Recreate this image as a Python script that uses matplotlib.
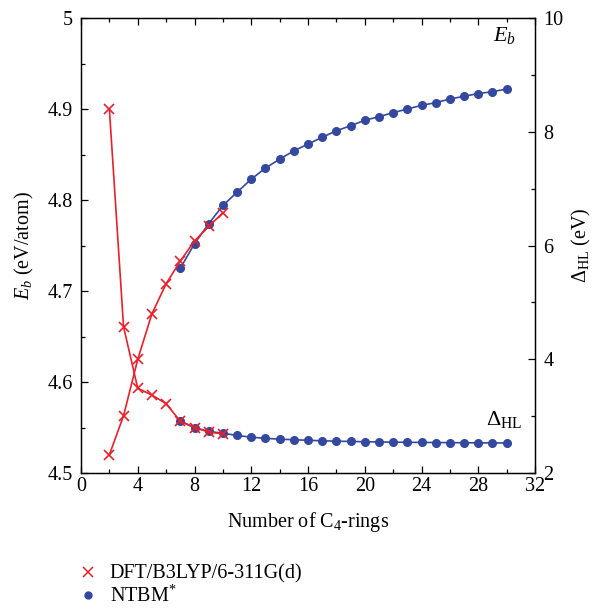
import matplotlib
matplotlib.use("Agg")
import matplotlib.pyplot as plt
from matplotlib.ticker import MultipleLocator
from matplotlib.lines import Line2D

plt.rcParams['font.family'] = ['Liberation Serif', 'DejaVu Serif']
plt.rcParams['mathtext.fontset'] = 'custom'
plt.rcParams['mathtext.rm'] = 'Liberation Serif'
plt.rcParams['mathtext.it'] = 'Liberation Serif:italic'

# DFT data
dft_n = [2, 3, 4, 5, 6, 7, 8, 9, 10]
dft_eb = [4.520, 4.563, 4.625, 4.675, 4.708, 4.733, 4.755, 4.771, 4.786]
dft_hl = [8.40, 4.57, 3.49, 3.37, 3.22, 2.91, 2.80, 2.72, 2.69]

# NTBM data
ntbm_n = list(range(7, 31))
ntbm_eb = [4.725, 4.752, 4.774, 4.794, 4.8085, 4.823, 4.835, 4.845, 4.854,
           4.8615, 4.869, 4.876, 4.8817, 4.8876, 4.8916, 4.896, 4.900, 4.904,
           4.907, 4.911, 4.914, 4.917, 4.919, 4.922]
ntbm_hl = [2.91, 2.80, 2.73, 2.70, 2.66, 2.63, 2.61, 2.595, 2.585, 2.575,
           2.567, 2.56, 2.555, 2.55, 2.546, 2.543, 2.54, 2.538, 2.536, 2.534,
           2.532, 2.53, 2.529, 2.528]

red = '#e8202a'
blue = '#3448a0'
fs = 14.5

fig = plt.figure(figsize=(5.93, 6.09), dpi=100)
ax = fig.add_axes([0.1366, 0.2233, 0.7656, 0.7471])
ax2 = ax.twinx()

ax.plot(dft_n, dft_eb, color=red, lw=1.2, marker='x', ms=7, mew=1.2, zorder=3)
ax.plot(ntbm_n, ntbm_eb, color=blue, lw=1.2, marker='o', ms=5.5, zorder=2)
ax2.plot(dft_n, dft_hl, color=red, lw=1.2, marker='x', ms=7, mew=1.2, zorder=3)
ax2.plot(ntbm_n, ntbm_hl, color=blue, lw=1.2, marker='o', ms=5.5, zorder=2)

ax.set_xlim(0, 32)
ax.set_ylim(4.5, 5.0)
ax2.set_ylim(2, 10)

ax.xaxis.set_major_locator(MultipleLocator(4))
ax.xaxis.set_minor_locator(MultipleLocator(2))
ax.yaxis.set_major_locator(MultipleLocator(0.1))
ax.yaxis.set_minor_locator(MultipleLocator(0.05))
ax2.yaxis.set_major_locator(MultipleLocator(2))
ax2.yaxis.set_minor_locator(MultipleLocator(1))

ax.set_yticks([4.5, 4.6, 4.7, 4.8, 4.9, 5.0])
ax.set_yticklabels(['4.5', '4.6', '4.7', '4.8', '4.9', '5'])

for a in (ax, ax2):
    a.tick_params(which='both', direction='in', labelsize=fs, width=0.9)
    a.tick_params(which='major', length=5)
    a.tick_params(which='minor', length=3)
    for s in a.spines.values():
        s.set_linewidth(0.9)
ax.tick_params(axis='x', which='both', top=True)
ax.tick_params(axis='x', pad=3)
ax.tick_params(axis='y', pad=6)
ax2.tick_params(axis='y', pad=6)

ax.set_xlabel(r'Number of C$_4$-rings', fontsize=fs, labelpad=10)
ax.set_ylabel(r'$E_b$ (eV/atom)', fontsize=fs, labelpad=8)
ax2.set_ylabel(r'$\Delta_{\rm HL}$ (eV)', fontsize=fs, labelpad=5)

ax2.text(30.7, 9.5, r'$E_b$', fontsize=16, ha='right', va='bottom')
ax2.text(31.1, 2.75, r'$\Delta_{\rm HL}$', fontsize=16, ha='right', va='bottom')

handles = [Line2D([], [], color=red, marker='x', ls='none', ms=7, mew=1.1),
           Line2D([], [], color=blue, marker='o', ls='none', ms=5)]
fig.legend(handles, ['DFT/B3LYP/6-311G(d)', r'NTBM$^{*}$'],
           loc='upper left', bbox_to_anchor=(0.117, 0.086),
           frameon=False, fontsize=fs, handlelength=1.0, handletextpad=0.6,
           labelspacing=0.1, borderaxespad=0)

fig.savefig('out.png', dpi=100)
